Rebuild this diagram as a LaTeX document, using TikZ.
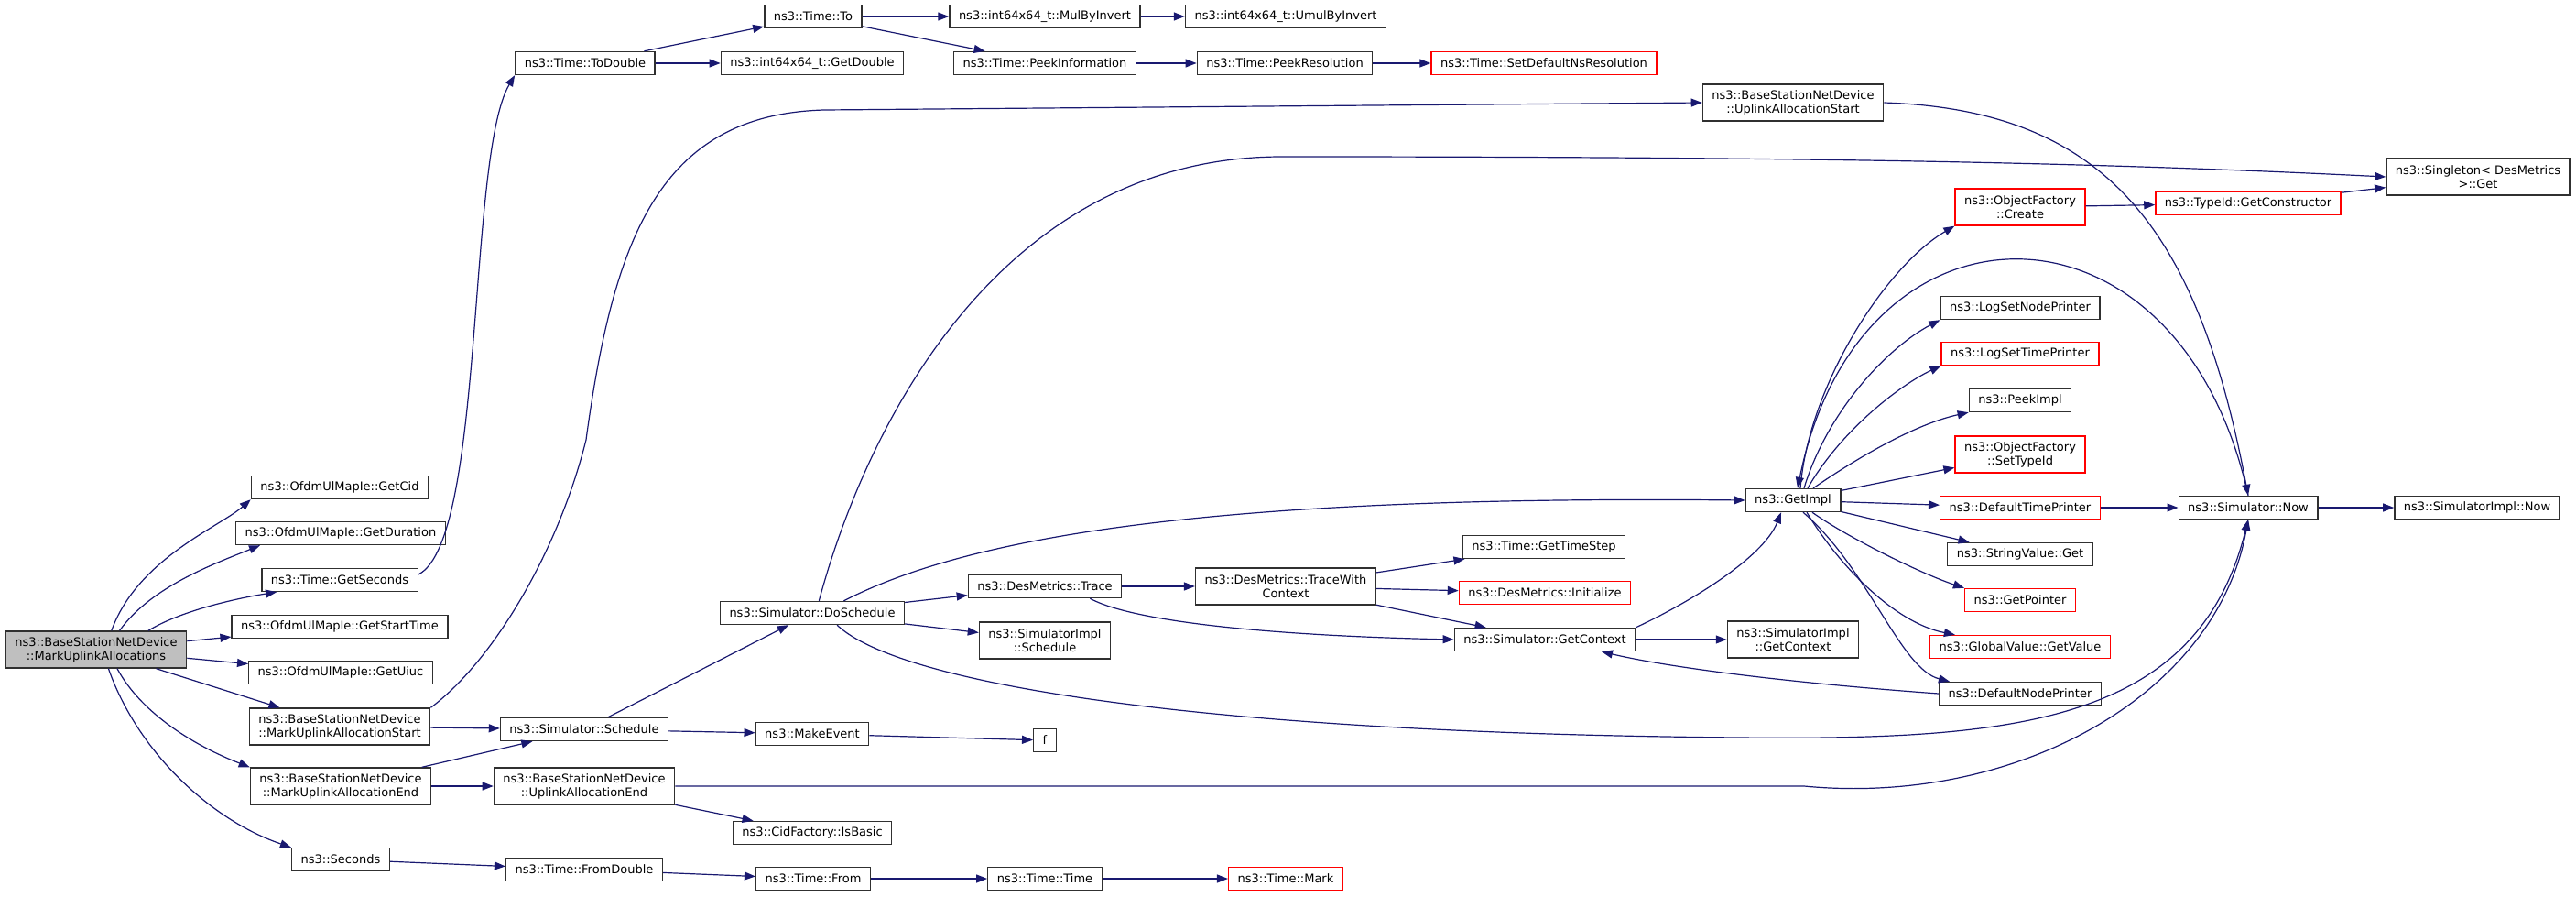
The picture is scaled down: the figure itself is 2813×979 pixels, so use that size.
\documentclass[tikz,border=0pt]{standalone}
\usepackage{fontspec}
\setmainfont{DejaVu Sans}
\usetikzlibrary{arrows.meta}
\definecolor{edgeblue}{HTML}{191970}
\definecolor{rootgrey}{HTML}{BFBFBF}
\definecolor{boxline}{HTML}{303030}
\newcommand{\doxfont}{\fontsize{13pt}{15pt}\selectfont}
\tikzset{
	% box of one function
	fn/.style={draw=boxline,line width=1.4pt,fill=white,inner xsep=10pt,inner ysep=2pt,
		minimum height=25pt,font=\doxfont},
	% box with a name on two lines
	fntwo/.style={fn,align=center,minimum height=40pt},
	% function whose own graph is cut off
	truncbox/.style={draw=red},
	% the function the graph is drawn for
	rootbox/.style={fill=rootgrey},
	% one call
	call/.style={draw=edgeblue,line width=1.2pt,-{Triangle[length=12pt,width=9pt]}},
}

\begin{document}
\begin{tikzpicture}[x=1pt,y=-1pt]
		\useasboundingbox (0,0) rectangle (2813,979);
		% first column
		\node[fntwo,rootbox] (root) at (105,709) {ns3::BaseStationNetDevice\\::MarkUplinkAllocations};
		% second column
		\node[fn] (getcid) at (371,532) {ns3::OfdmUlMapIe::GetCid};
		\node[fn] (getdur) at (372,582) {ns3::OfdmUlMapIe::GetDuration};
		\node[fn] (getsec) at (371,633) {ns3::Time::GetSeconds};
		\node[fn] (getstart) at (371,684) {ns3::OfdmUlMapIe::GetStartTime};
		\node[fn] (getuiuc) at (372,734) {ns3::OfdmUlMapIe::GetUiuc};
		\node[fntwo] (markstart) at (371,793) {ns3::BaseStationNetDevice\\::MarkUplinkAllocationStart};
		\node[fntwo] (markend) at (372,858) {ns3::BaseStationNetDevice\\::MarkUplinkAllocationEnd};
		\node[fn] (seconds) at (372,938) {ns3::Seconds};
		% third column
		\node[fn] (todouble) at (639,69) {ns3::Time::ToDouble};
		\node[fn] (sched) at (638,796) {ns3::Simulator::Schedule};
		\node[fntwo] (uaend) at (638,858) {ns3::BaseStationNetDevice\\::UplinkAllocationEnd};
		\node[fn] (fromdbl) at (638,949) {ns3::Time::FromDouble};
		% fourth column
		\node[fn] (timeto) at (888,18) {ns3::Time::To};
		\node[fn] (getdouble) at (887,69) {ns3::int64x64\_t::GetDouble};
		\node[fn] (dosched) at (887,669) {ns3::Simulator::DoSchedule};
		\node[fn] (makeev) at (887,801) {ns3::MakeEvent};
		\node[fn] (isbasic) at (887,909) {ns3::CidFactory::IsBasic};
		\node[fn] (timefrom) at (888,959) {ns3::Time::From};
		% fifth column
		\node[fn] (mulinv) at (1141,18) {ns3::int64x64\_t::MulByInvert};
		\node[fn] (peekinfo) at (1141,69) {ns3::Time::PeekInformation};
		\node[fn] (trace) at (1141,640) {ns3::DesMetrics::Trace};
		\node[fntwo] (simsched) at (1141,699) {ns3::SimulatorImpl\\::Schedule};
		\node[fn] (fn) at (1141,808) {f};
		\node[fn] (timetime) at (1141,959) {ns3::Time::Time};
		% sixth column
		\node[fn] (umulinv) at (1404,18) {ns3::int64x64\_t::UmulByInvert};
		\node[fn] (peekres) at (1403,69) {ns3::Time::PeekResolution};
		\node[fntwo] (twc) at (1404,640) {ns3::DesMetrics::TraceWith\\Context};
		\node[fn,truncbox] (mark) at (1404,959) {ns3::Time::Mark};
		% seventh column
		\node[fn,truncbox] (setres) at (1686,69) {ns3::Time::SetDefaultNsResolution};
		\node[fn] (timestep) at (1686,597) {ns3::Time::GetTimeStep};
		\node[fn,truncbox] (dminit) at (1687,647) {ns3::DesMetrics::Initialize};
		\node[fn] (getctx) at (1687,698) {ns3::Simulator::GetContext};
		% eighth column
		\node[fntwo] (uastart) at (1958,112) {ns3::BaseStationNetDevice\\::UplinkAllocationStart};
		\node[fn] (getimpl) at (1958,546) {ns3::GetImpl};
		\node[fntwo] (implctx) at (1958,698) {ns3::SimulatorImpl\\::GetContext};
		% ninth column
		\node[fntwo,truncbox] (ofcreate) at (2206,226) {ns3::ObjectFactory\\::Create};
		\node[fn] (lognode) at (2206,336) {ns3::LogSetNodePrinter};
		\node[fn,truncbox] (logtime) at (2206,386) {ns3::LogSetTimePrinter};
		\node[fn] (peekimpl) at (2206,437) {ns3::PeekImpl};
		\node[fntwo,truncbox] (settype) at (2206,496) {ns3::ObjectFactory\\::SetTypeId};
		\node[fn,truncbox] (deftime) at (2206,554) {ns3::DefaultTimePrinter};
		\node[fn] (strget) at (2206,605) {ns3::StringValue::Get};
		\node[fn,truncbox] (getptr) at (2206,655) {ns3::GetPointer};
		\node[fn,truncbox] (gvget) at (2206,706) {ns3::GlobalValue::GetValue};
		\node[fn] (defnode) at (2206,757) {ns3::DefaultNodePrinter};
		% last columns
		\node[fn,truncbox] (getctor) at (2455,222) {ns3::TypeId::GetConstructor};
		\node[fn] (simnow) at (2455,554) {ns3::Simulator::Now};
		\node[fntwo] (singleton) at (2706,193) {ns3::Singleton< DesMetrics\\>::Get};
		\node[fn] (implnow) at (2705,554) {ns3::SimulatorImpl::Now};

		% calls from the root
		\draw[call] (root.51) .. controls (150,610) and (240,575) .. (getcid.south west);
		\draw[call] (root.39) .. controls (165,640) and (235,615) .. ([xshift=27pt]getdur.south west);
		\draw[call] (root.20) .. controls (200,665) and (265,652) .. ([xshift=17pt]getsec.south west);
		\draw[call] (root) -- (getstart);
		\draw[call] (root) -- (getuiuc);
		\draw[call] (root) -- (markstart);
		\draw[call] (root.-42) .. controls (155,780) and (215,815) .. (markend.north west);
		\draw[call] (root.-57) .. controls (150,820) and (230,895) .. (seconds.north west);

		% time conversions on top
		\draw[call] (getsec.4) .. controls (530,590) and (510,170) .. (todouble.south west);
		\draw[call] (todouble) -- (timeto);
		\draw[call] (todouble) -- (getdouble);
		\draw[call] (timeto) -- (mulinv);
		\draw[call] (timeto) -- (peekinfo);
		\draw[call] (mulinv) -- (umulinv);
		\draw[call] (peekinfo) -- (peekres);
		\draw[call] (peekres) -- (setres);

		% scheduling
		\draw[call] (markstart.north east) .. controls (540,720) and (610,600) .. (640,480)
			.. controls (670,260) and (720,125) .. (900,120) -- (uastart.west);
		\draw[call] (markstart) -- (sched);
		\draw[call] (markend) -- (sched);
		\draw[call] (markend) -- (uaend);
		\draw[call] (sched) -- (dosched);
		\draw[call] (sched) -- (makeev);
		\draw[call] (makeev) -- (fn);
		\draw[call] (uaend) -- (isbasic);
		\draw[call] (seconds) -- (fromdbl);
		\draw[call] (fromdbl) -- (timefrom);
		\draw[call] (timefrom) -- (timetime);
		\draw[call] (timetime) -- (mark);

		% to Simulator::Now
		\draw[call] (uaend.east) -- (1970,858) .. controls (2200,880) and (2420,760) .. (simnow.south);
		\draw[call] (dosched.-26) .. controls (980,745) and (1300,800) .. (1900,805)
			.. controls (2200,808) and (2400,790) .. (simnow.south);
		\draw[call] (uastart.east) .. controls (2300,120) and (2400,250) .. (simnow.north);
		\draw[call] (simnow.north) .. controls (2380,200) and (2030,200) .. ([xshift=5pt]getimpl.north);

		% DoSchedule
		\draw[call] (dosched.61) .. controls (950,450) and (1100,171) .. (1400,171)
			.. controls (2000,171) and (2300,178) .. (singleton.west);
		\draw[call] (dosched.21) .. controls (1050,590) and (1300,540) .. (getimpl.west);
		\draw[call] (dosched) -- (trace);
		\draw[call] (dosched) -- (simsched);
		\draw[call] (trace) -- (twc);
		\draw[call] (trace.-15) .. controls (1240,680) and (1400,694) .. (getctx.west);
		\draw[call] (twc) -- (timestep);
		\draw[call] (twc) -- (dminit);
		\draw[call] (twc) -- (getctx);
		\draw[call] (getctx) -- (implctx);
		\draw[call] (getctx.north east) .. controls (1840,660) and (1925,610) .. ([xshift=-13pt]getimpl.south);
		\draw[call] (defnode.west) .. controls (1950,745) and (1820,728) .. ([xshift=62pt]getctx.south);

		% GetImpl
		\draw[call] ([xshift=8pt]getimpl.north) .. controls (1975,420) and (2060,290) .. (ofcreate.south west);
		\draw[call] ([xshift=12pt]getimpl.north) .. controls (1995,450) and (2060,380) .. (lognode.south west);
		\draw[call] ([xshift=16pt]getimpl.north) .. controls (2010,470) and (2075,420) .. (logtime.south west);
		\draw[call] ([xshift=22pt]getimpl.north) .. controls (2035,495) and (2095,462) .. (peekimpl.south west);
		\draw[call] (getimpl) -- (settype);
		\draw[call] (getimpl) -- (deftime);
		\draw[call] (getimpl) -- (strget);
		\draw[call] ([xshift=21pt]getimpl.south) .. controls (2015,585) and (2095,625) .. (getptr.north west);
		\draw[call] ([xshift=15pt]getimpl.south) .. controls (2010,620) and (2070,680) .. ([xshift=28pt]gvget.north west);
		\draw[call] ([xshift=11pt]getimpl.south) .. controls (2040,620) and (2075,730) .. ([xshift=12pt]defnode.north west);
		\draw[call] (ofcreate) -- (getctor);
		\draw[call] (getctor) -- (singleton);
		\draw[call] (deftime) -- (simnow);
		\draw[call] (simnow) -- (implnow);
\end{tikzpicture}
\end{document}
